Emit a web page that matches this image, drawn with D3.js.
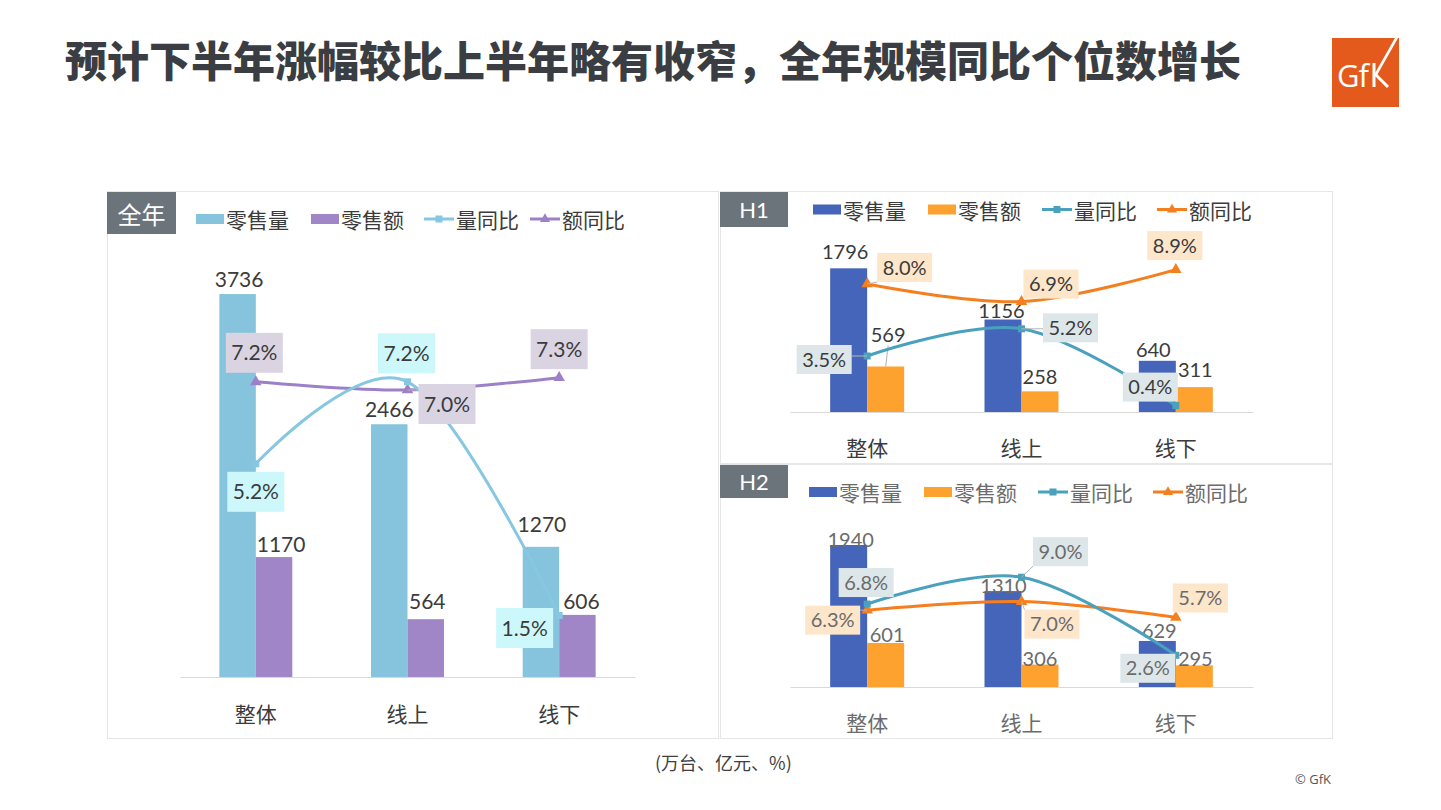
<!DOCTYPE html>
<html><head><meta charset="utf-8">
<script src="https://cdn.jsdelivr.net/npm/d3@7"></script>
<style>body{margin:0;background:#fff;}svg{display:block;}</style>
</head><body>
<svg id="c" width="1441" height="810"></svg>
<script>
// ---------------- data ----------------
const titleText = "预计下半年涨幅较比上半年略有收窄，全年规模同比个位数增长";
const unitNote = "(万台、亿元、%)";
const copyright = "© GfK";
const categories = ["整体", "线上", "线下"];
const legendNames = ["零售量", "零售额", "量同比", "额同比"];

const fullVolume = [3736, 2466, 1270];
const fullValue = [1170, 564, 606];
const fullVolYoY = [5.2, 7.2, 1.5];
const fullValYoY = [7.2, 7.0, 7.3];

const h1Volume = [1796, 1156, 640];
const h1Value = [569, 258, 311];
const h1VolYoY = [3.5, 5.2, 0.4];
const h1ValYoY = [8.0, 6.9, 8.9];

const h2Volume = [1940, 1310, 629];
const h2Value = [601, 306, 295];
const h2VolYoY = [6.8, 9.0, 2.6];
const h2ValYoY = [6.3, 7.0, 5.7];

// ---------------- layout ----------------
const svg = d3.select("#c");
const NUM = "Lato, 'Noto Sans CJK SC', sans-serif";
const CJK = "'Noto Sans CJK SC', sans-serif";

const panels = [
  {
    tag: "全年", tagFont: CJK, tagSize: 24, border: [107, 191, 611, 547], tagBox: [107, 192, 69, 42],
    xRange: [180, 635], pad: 0.519, base: 677, top: 267, yMax: 4000, y2Max: 10,
    legendY: 219, legendX: [196, 311, 424, 530],
    catDy: 36, valSize: 21, pctSize: 21, boxW: 57, boxH: 40, text: "#3b3b3b",
    col: {vol: "#86C4DD", val: "#A086C7", volLine: "#86C7E1", valLine: "#9C81C9", volBox: "#CDF8FB", valBox: "#DAD4E2"},
    lw: 3,
    data: {vol: fullVolume, val: fullValue, volY: fullVolYoY, valY: fullValYoY},
    volOff: [[1.5, -7], [0, -7], [1, -15]],
    valOff: [[7, -5], [1.5, -10], [4, -6]],
    volYOff: [[0, 28], [-1, -28.5], [-34.5, 12.5]],
    valYOff: [[-1.5, -29], [39.5, 14], [0, -28.5]],
    leaders: [["valY", 1]], valLeaders: []
  },
  {
    tag: "H1", tagFont: NUM, tagSize: 22, border: [720, 191, 612, 272], tagBox: [720, 192, 68, 35],
    xRange: [790, 1253], pad: 0.5205, base: 412, top: 252, yMax: 2000, y2Max: 10,
    legendY: 209.5, legendX: [813, 928, 1042, 1157],
    catDy: 35, valSize: 20, pctSize: 20, boxW: 55, boxH: 29, text: "#3b3b3b",
    col: {vol: "#4465BA", val: "#FDA12F", volLine: "#49A1BD", valLine: "#F57E1F", volBox: "#DDE7E9", valBox: "#FDE6CA"},
    lw: 3,
    data: {vol: h1Volume, val: h1Value, volY: h1VolYoY, valY: h1ValYoY},
    volOff: [[-3.5, -9], [-1.5, -2], [-4, -4]],
    valOff: [[2.5, -24], [0, -7], [1, -10]],
    volYOff: [[-43, 3.5], [49, -1], [-25.5, -18.5]],
    valYOff: [[37.5, -16.5], [29.5, -17.5], [-1, -24]],
    leaders: [["volY", 0], ["volY", 1], ["valY", 0]], valLeaders: [0]
  },
  {
    tag: "H2", tagFont: NUM, tagSize: 22, border: [720, 464, 612, 274], tagBox: [720, 465, 68, 33],
    xRange: [790, 1253], pad: 0.5205, base: 687, top: 504, yMax: 2500, y2Max: 15,
    legendY: 492, legendX: [809, 924, 1038, 1153],
    catDy: 35, valSize: 20, pctSize: 20, boxW: 55, boxH: 29, text: "#6b6b6b",
    col: {vol: "#4465BA", val: "#FDA12F", volLine: "#49A1BD", valLine: "#F57E1F", volBox: "#DDE7E9", valBox: "#FDE6CA"},
    lw: 3,
    data: {vol: h2Volume, val: h2Value, volY: h2VolYoY, valY: h2ValYoY},
    volOff: [[2, 2], [0.5, 2], [2, -3]],
    valOff: [[1.5, -1], [0, 1], [1, 1]],
    volYOff: [[-1, -21.5], [39, -25.5], [-28, 13]],
    valYOff: [[-34.5, 10], [30.5, 22.5], [24.5, -19.5]],
    leaders: [["volY", 1], ["valY", 1], ["valY", 0]], valLeaders: []
  }
];

// ---------------- title & decorations ----------------
svg.append("text").attr("x", 65).attr("y", 58).attr("dominant-baseline", "central")
  .attr("font-family", CJK).attr("font-weight", 900).attr("font-size", 42)
  .attr("fill", "#3a3e42").text(titleText);

// GfK logo
const logo = svg.append("g");
logo.append("rect").attr("x", 1332).attr("y", 38).attr("width", 67).attr("height", 69).attr("fill", "#E45A1C");
logo.append("text").attr("x", 1337).attr("y", 87).attr("font-family", "'Open Sans', sans-serif")
  .attr("font-size", 31).attr("fill", "#fff").attr("letter-spacing", -1).text("Gf");
logo.append("line").attr("x1", 1374).attr("y1", 63).attr("x2", 1374).attr("y2", 87).attr("stroke", "#fff").attr("stroke-width", 3);
logo.append("line").attr("x1", 1375).attr("y1", 76).attr("x2", 1397).attr("y2", 37).attr("stroke", "#fff").attr("stroke-width", 2.6);
logo.append("line").attr("x1", 1376).attr("y1", 75).attr("x2", 1388).attr("y2", 87).attr("stroke", "#fff").attr("stroke-width", 3);

svg.append("text").attr("x", 655).attr("y", 762).attr("dominant-baseline", "central")
  .attr("font-family", CJK).attr("font-size", 18).attr("fill", "#404040").text(unitNote);
svg.append("text").attr("x", 1295).attr("y", 779).attr("dominant-baseline", "central")
  .attr("font-family", "'Open Sans', sans-serif").attr("font-size", 13).attr("fill", "#555").text(copyright);

// ---------------- panels ----------------
function marker(g, type, cx, cy, color, s) {
  if (type === "sq") {
    g.append("rect").attr("x", cx - s / 2).attr("y", cy - s / 2).attr("width", s).attr("height", s).attr("fill", color);
  } else {
    g.append("path").attr("d", d3.symbol(d3.symbolTriangle, s * s * 0.9)()).attr("transform", `translate(${cx},${cy})`).attr("fill", color);
  }
}

panels.forEach(p => {
  const g = svg.append("g");
  const [bx, by, bw0, bh0] = p.border;
  g.append("rect").attr("x", bx + 0.5).attr("y", by + 0.5).attr("width", bw0).attr("height", bh0)
    .attr("fill", "none").attr("stroke", "#e6e6e6");
  const [tx, ty, tw, th] = p.tagBox;
  g.append("rect").attr("x", tx).attr("y", ty).attr("width", tw).attr("height", th).attr("fill", "#6C747B");
  g.append("text").attr("x", tx + tw / 2).attr("y", ty + th / 2).attr("text-anchor", "middle")
    .attr("dominant-baseline", "central").attr("font-family", p.tagFont).attr("font-size", p.tagSize)
    .attr("fill", "#fff").text(p.tag);

  // legend
  const lg = g.append("g").attr("font-family", CJK).attr("font-size", 21).attr("fill", p.text);
  const sw = [p.col.vol, p.col.val];
  [0, 1].forEach(i => {
    lg.append("rect").attr("x", p.legendX[i]).attr("y", p.legendY - 5).attr("width", 28).attr("height", 10).attr("fill", sw[i]);
    lg.append("text").attr("x", p.legendX[i] + 30).attr("y", p.legendY).attr("dominant-baseline", "central").text(legendNames[i]);
  });
  const lc = [p.col.volLine, p.col.valLine];
  [2, 3].forEach(i => {
    const x0 = p.legendX[i];
    lg.append("line").attr("x1", x0).attr("x2", x0 + 30).attr("y1", p.legendY).attr("y2", p.legendY)
      .attr("stroke", lc[i - 2]).attr("stroke-width", 3);
    marker(lg, i === 2 ? "sq" : "tri", x0 + 15, p.legendY, lc[i - 2], 7);
    lg.append("text").attr("x", x0 + 32).attr("y", p.legendY).attr("dominant-baseline", "central").text(legendNames[i]);
  });

  // scales
  const x = d3.scaleBand().domain(categories).range(p.xRange).paddingInner(p.pad).paddingOuter(p.pad / 2);
  const y = d3.scaleLinear().domain([0, p.yMax]).range([p.base, p.top]);
  const y2 = d3.scaleLinear().domain([0, p.y2Max]).range([p.base, p.top]);
  const hb = x.bandwidth() / 2;
  const cx = c => x(c) + hb;

  // bars
  g.append("g").selectAll("rect").data(categories).join("rect")
    .attr("x", c => x(c)).attr("width", hb).attr("y", (c, i) => y(p.data.vol[i]))
    .attr("height", (c, i) => y(0) - y(p.data.vol[i])).attr("fill", p.col.vol);
  g.append("g").selectAll("rect").data(categories).join("rect")
    .attr("x", c => x(c) + hb).attr("width", hb).attr("y", (c, i) => y(p.data.val[i]))
    .attr("height", (c, i) => y(0) - y(p.data.val[i])).attr("fill", p.col.val);

  // axis
  const ax = g.append("g").attr("transform", `translate(0,${p.base})`)
    .call(d3.axisBottom(x).tickSize(0).tickSizeOuter(0));
  ax.select(".domain").attr("stroke", "#d9d9d9");
  ax.selectAll("text").attr("y", p.catDy).attr("dy", null).attr("dominant-baseline", "central")
    .attr("font-family", CJK).attr("font-size", 21).attr("fill", p.text);

  // value labels
  const vl = g.append("g").attr("font-family", NUM).attr("font-size", p.valSize).attr("fill", p.text).attr("text-anchor", "middle");
  categories.forEach((c, i) => {
    const v = p.data.vol[i], w = p.data.val[i];
    vl.append("text").attr("x", x(c) + hb / 2 + p.volOff[i][0]).attr("y", y(v) + p.volOff[i][1]).text(v);
    vl.append("text").attr("x", x(c) + hb * 1.5 + p.valOff[i][0]).attr("y", y(w) + p.valOff[i][1]).text(w);
    if (p.valLeaders.includes(i)) {
      g.append("line").attr("x1", x(c) + hb * 1.5 + p.valOff[i][0]).attr("x2", x(c) + hb * 1.5)
        .attr("y1", y(w) + p.valOff[i][1] + 3).attr("y2", y(w)).attr("stroke", "#b0b0b0").attr("stroke-width", 1);
    }
  });

  // lines
  const line = d3.line().curve(d3.curveCardinal.tension(0)).x(d => cx(d[0])).y(d => y2(d[1]));
  const volPts = categories.map((c, i) => [c, p.data.volY[i]]);
  const valPts = categories.map((c, i) => [c, p.data.valY[i]]);
  g.append("path").attr("d", line(valPts)).attr("fill", "none").attr("stroke", p.col.valLine).attr("stroke-width", p.lw);
  g.append("path").attr("d", line(volPts)).attr("fill", "none").attr("stroke", p.col.volLine).attr("stroke-width", p.lw);
  valPts.forEach(d => marker(g, "tri", cx(d[0]), y2(d[1]), p.col.valLine, 8));
  volPts.forEach(d => marker(g, "sq", cx(d[0]), y2(d[1]), p.col.volLine, 7));

  // percentage boxes
  const series = [["volY", p.volYOff, p.col.volBox], ["valY", p.valYOff, p.col.valBox]];
  series.forEach(([key, offs, fill]) => {
    categories.forEach((c, i) => {
      const mx = cx(c), my = y2(p.data[key][i]);
      const bcx = mx + offs[i][0], bcy = my + offs[i][1];
      const x0 = bcx - p.boxW / 2, y0 = bcy - p.boxH / 2;
      if (p.leaders.some(l => l[0] === key && l[1] === i)) {
        const nx = Math.max(x0, Math.min(mx, x0 + p.boxW)), ny = Math.max(y0, Math.min(my, y0 + p.boxH));
        g.append("line").attr("x1", mx).attr("y1", my).attr("x2", nx).attr("y2", ny)
          .attr("stroke", "#b5b5b5").attr("stroke-width", 1);
      }
      g.append("rect").attr("x", x0).attr("y", y0).attr("width", p.boxW).attr("height", p.boxH).attr("fill", fill);
      g.append("text").attr("x", bcx).attr("y", bcy + p.pctSize * 0.36).attr("text-anchor", "middle")
        .attr("font-family", NUM).attr("font-size", p.pctSize).attr("fill", p.text)
        .text(p.data[key][i].toFixed(1) + "%");
    });
  });
});
</script>
</body></html>
